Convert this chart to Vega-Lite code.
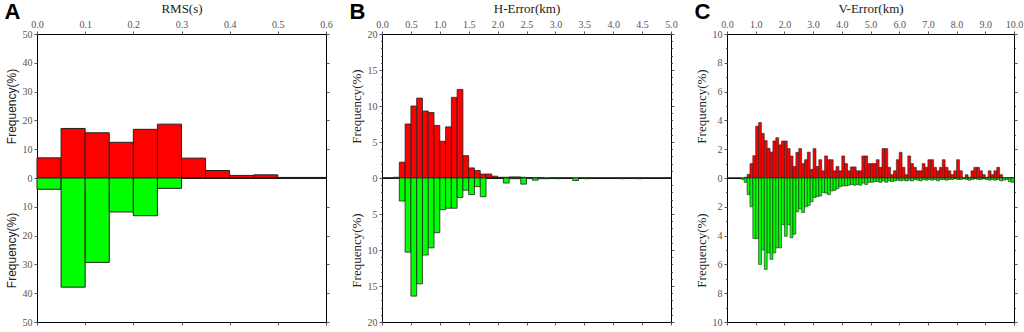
{
  "$schema": "https://vega.github.io/schema/vega-lite/v6.json",
  "background": "white",
  "padding": {"left": 4, "top": 0, "right": 2, "bottom": 2},
  "spacing": 16,
  "config": {
    "view": {"stroke": "#000", "strokeWidth": 1},
    "axis": {"labelFont": "Liberation Serif", "labelFontSize": 10, "labelColor": "#555", "titleFont": "Liberation Serif", "titleFontSize": 13, "titleFontWeight": "normal", "titleColor": "#222", "tickColor": "#555", "tickSize": 3, "domain": false, "grid": false, "labelFlush": false, "labelOverlap": false, "labelPadding": 2, "titlePadding": 4}
  },
  "datasets": {
    "A": [
      {"lo": 0, "hi": 0.05, "red": 7.0, "green": 3.9},
      {"lo": 0.05, "hi": 0.1, "red": 17.2, "green": 37.9},
      {"lo": 0.1, "hi": 0.15, "red": 15.7, "green": 29.3},
      {"lo": 0.15, "hi": 0.2, "red": 12.4, "green": 11.8},
      {"lo": 0.2, "hi": 0.25, "red": 16.9, "green": 13.1},
      {"lo": 0.25, "hi": 0.3, "red": 18.7, "green": 3.6},
      {"lo": 0.3, "hi": 0.35, "red": 6.9, "green": 0},
      {"lo": 0.35, "hi": 0.4, "red": 2.6, "green": 0},
      {"lo": 0.4, "hi": 0.45, "red": 0.9, "green": 0},
      {"lo": 0.45, "hi": 0.5, "red": 1.1, "green": 0},
      {"lo": 0.5, "hi": 0.55, "red": 0.2, "green": 0},
      {"lo": 0.55, "hi": 0.6, "red": 0.2, "green": 0}
    ],
    "B": [
      {"lo": 0.0, "hi": 0.1, "red": 0, "green": 0},
      {"lo": 0.1, "hi": 0.2, "red": 0, "green": 0},
      {"lo": 0.2, "hi": 0.3, "red": 0.1, "green": 0.05},
      {"lo": 0.3, "hi": 0.4, "red": 2.2, "green": 3.2},
      {"lo": 0.4, "hi": 0.5, "red": 7.5, "green": 10.3},
      {"lo": 0.5, "hi": 0.6, "red": 10.0, "green": 16.4},
      {"lo": 0.6, "hi": 0.7, "red": 11.1, "green": 14.7},
      {"lo": 0.7, "hi": 0.8, "red": 9.3, "green": 10.7},
      {"lo": 0.8, "hi": 0.9, "red": 9.1, "green": 9.7},
      {"lo": 0.9, "hi": 1.0, "red": 7.3, "green": 7.6},
      {"lo": 1.0, "hi": 1.1, "red": 5.1, "green": 4.4},
      {"lo": 1.1, "hi": 1.2, "red": 7.1, "green": 4.2},
      {"lo": 1.2, "hi": 1.3, "red": 11.2, "green": 4.2},
      {"lo": 1.3, "hi": 1.4, "red": 12.3, "green": 2.7},
      {"lo": 1.4, "hi": 1.5, "red": 3.1, "green": 1.7},
      {"lo": 1.5, "hi": 1.6, "red": 1.4, "green": 2.3},
      {"lo": 1.6, "hi": 1.7, "red": 1.05, "green": 1.2},
      {"lo": 1.7, "hi": 1.8, "red": 0.55, "green": 2.6},
      {"lo": 1.8, "hi": 1.9, "red": 0.55, "green": 0},
      {"lo": 1.9, "hi": 2.0, "red": 0.25, "green": 0},
      {"lo": 2.0, "hi": 2.1, "red": 0.1, "green": 0},
      {"lo": 2.1, "hi": 2.2, "red": 0.1, "green": 0.7},
      {"lo": 2.2, "hi": 2.3, "red": 0.15, "green": 0.1},
      {"lo": 2.3, "hi": 2.4, "red": 0.15, "green": 0.1},
      {"lo": 2.4, "hi": 2.5, "red": 0.1, "green": 0.85},
      {"lo": 2.5, "hi": 2.6, "red": 0.05, "green": 0.05},
      {"lo": 2.6, "hi": 2.7, "red": 0.05, "green": 0.3},
      {"lo": 2.7, "hi": 2.8, "red": 0.05, "green": 0.1},
      {"lo": 2.8, "hi": 2.9, "red": 0, "green": 0.1},
      {"lo": 2.9, "hi": 3.0, "red": 0, "green": 0},
      {"lo": 3.0, "hi": 3.1, "red": 0.05, "green": 0.1},
      {"lo": 3.1, "hi": 3.2, "red": 0, "green": 0},
      {"lo": 3.2, "hi": 3.3, "red": 0, "green": 0},
      {"lo": 3.3, "hi": 3.4, "red": 0, "green": 0.35},
      {"lo": 3.4, "hi": 3.5, "red": 0, "green": 0},
      {"lo": 3.5, "hi": 3.6, "red": 0.05, "green": 0.1},
      {"lo": 3.6, "hi": 3.7, "red": 0, "green": 0},
      {"lo": 3.7, "hi": 3.8, "red": 0, "green": 0},
      {"lo": 3.8, "hi": 3.9, "red": 0, "green": 0},
      {"lo": 3.9, "hi": 4.0, "red": 0, "green": 0},
      {"lo": 4.0, "hi": 4.1, "red": 0, "green": 0},
      {"lo": 4.1, "hi": 4.2, "red": 0.05, "green": 0.1},
      {"lo": 4.2, "hi": 4.3, "red": 0, "green": 0},
      {"lo": 4.3, "hi": 4.4, "red": 0, "green": 0},
      {"lo": 4.4, "hi": 4.5, "red": 0.05, "green": 0.1},
      {"lo": 4.5, "hi": 4.6, "red": 0, "green": 0},
      {"lo": 4.6, "hi": 4.7, "red": 0, "green": 0},
      {"lo": 4.7, "hi": 4.8, "red": 0, "green": 0},
      {"lo": 4.8, "hi": 4.9, "red": 0, "green": 0},
      {"lo": 4.9, "hi": 5.0, "red": 0, "green": 0}
    ],
    "C": [
      {"lo": 0.0, "hi": 0.1, "red": 0, "green": 0},
      {"lo": 0.1, "hi": 0.2, "red": 0, "green": 0},
      {"lo": 0.2, "hi": 0.3, "red": 0, "green": 0},
      {"lo": 0.3, "hi": 0.4, "red": 0, "green": 0},
      {"lo": 0.4, "hi": 0.5, "red": 0, "green": 0},
      {"lo": 0.5, "hi": 0.6, "red": 0, "green": 0.1},
      {"lo": 0.6, "hi": 0.7, "red": 0.05, "green": 0.3},
      {"lo": 0.7, "hi": 0.8, "red": 0.25, "green": 1.15},
      {"lo": 0.8, "hi": 0.9, "red": 1.0, "green": 2.0},
      {"lo": 0.9, "hi": 1.0, "red": 1.55, "green": 4.2},
      {"lo": 1.0, "hi": 1.1, "red": 3.6, "green": 4.2},
      {"lo": 1.1, "hi": 1.2, "red": 3.85, "green": 6.0},
      {"lo": 1.2, "hi": 1.3, "red": 3.1, "green": 5.0},
      {"lo": 1.3, "hi": 1.4, "red": 2.6, "green": 6.35},
      {"lo": 1.4, "hi": 1.5, "red": 2.06, "green": 5.2},
      {"lo": 1.5, "hi": 1.6, "red": 1.8, "green": 5.65},
      {"lo": 1.6, "hi": 1.7, "red": 2.57, "green": 5.2},
      {"lo": 1.7, "hi": 1.8, "red": 2.8, "green": 4.85},
      {"lo": 1.8, "hi": 1.9, "red": 2.3, "green": 4.85},
      {"lo": 1.9, "hi": 2.0, "red": 2.57, "green": 3.25},
      {"lo": 2.0, "hi": 2.1, "red": 2.57, "green": 4.05},
      {"lo": 2.1, "hi": 2.2, "red": 2.04, "green": 3.25},
      {"lo": 2.2, "hi": 2.3, "red": 1.53, "green": 4.15},
      {"lo": 2.3, "hi": 2.4, "red": 0.8, "green": 3.9},
      {"lo": 2.4, "hi": 2.5, "red": 1.78, "green": 2.35},
      {"lo": 2.5, "hi": 2.6, "red": 2.04, "green": 2.15},
      {"lo": 2.6, "hi": 2.7, "red": 1.0, "green": 2.4},
      {"lo": 2.7, "hi": 2.8, "red": 1.27, "green": 2.0},
      {"lo": 2.8, "hi": 2.9, "red": 1.8, "green": 1.9},
      {"lo": 2.9, "hi": 3.0, "red": 0.6, "green": 1.65},
      {"lo": 3.0, "hi": 3.1, "red": 2.04, "green": 1.35},
      {"lo": 3.1, "hi": 3.2, "red": 0.8, "green": 1.3},
      {"lo": 3.2, "hi": 3.3, "red": 1.27, "green": 1.25},
      {"lo": 3.3, "hi": 3.4, "red": 0.5, "green": 1.0},
      {"lo": 3.4, "hi": 3.5, "red": 1.53, "green": 1.05},
      {"lo": 3.5, "hi": 3.6, "red": 1.27, "green": 1.15},
      {"lo": 3.6, "hi": 3.7, "red": 1.27, "green": 0.9},
      {"lo": 3.7, "hi": 3.8, "red": 0.5, "green": 0.85},
      {"lo": 3.8, "hi": 3.9, "red": 0.8, "green": 0.75},
      {"lo": 3.9, "hi": 4.0, "red": 0.5, "green": 0.6},
      {"lo": 4.0, "hi": 4.1, "red": 1.53, "green": 0.55},
      {"lo": 4.1, "hi": 4.2, "red": 1.0, "green": 0.55},
      {"lo": 4.2, "hi": 4.3, "red": 0.5, "green": 0.5},
      {"lo": 4.3, "hi": 4.4, "red": 0.77, "green": 0.45},
      {"lo": 4.4, "hi": 4.5, "red": 0.77, "green": 0.5},
      {"lo": 4.5, "hi": 4.6, "red": 0.5, "green": 0.45},
      {"lo": 4.6, "hi": 4.7, "red": 0.5, "green": 0.5},
      {"lo": 4.7, "hi": 4.8, "red": 1.53, "green": 0.35},
      {"lo": 4.8, "hi": 4.9, "red": 1.53, "green": 0.45},
      {"lo": 4.9, "hi": 5.0, "red": 1.0, "green": 0.3},
      {"lo": 5.0, "hi": 5.1, "red": 1.0, "green": 0.3},
      {"lo": 5.1, "hi": 5.2, "red": 1.0, "green": 0.25},
      {"lo": 5.2, "hi": 5.3, "red": 1.27, "green": 0.25},
      {"lo": 5.3, "hi": 5.4, "red": 0.74, "green": 0.3},
      {"lo": 5.4, "hi": 5.5, "red": 2.04, "green": 0.2},
      {"lo": 5.5, "hi": 5.6, "red": 2.04, "green": 0.3},
      {"lo": 5.6, "hi": 5.7, "red": 0.74, "green": 0.2},
      {"lo": 5.7, "hi": 5.8, "red": 0.23, "green": 0.25},
      {"lo": 5.8, "hi": 5.9, "red": 0.5, "green": 0.2},
      {"lo": 5.9, "hi": 6.0, "red": 1.27, "green": 0.15},
      {"lo": 6.0, "hi": 6.1, "red": 1.78, "green": 0.2},
      {"lo": 6.1, "hi": 6.2, "red": 0.74, "green": 0.15},
      {"lo": 6.2, "hi": 6.3, "red": 0.23, "green": 0.2},
      {"lo": 6.3, "hi": 6.4, "red": 1.53, "green": 0.15},
      {"lo": 6.4, "hi": 6.5, "red": 1.0, "green": 0.2},
      {"lo": 6.5, "hi": 6.6, "red": 0.74, "green": 0.1},
      {"lo": 6.6, "hi": 6.7, "red": 0.5, "green": 0.15},
      {"lo": 6.7, "hi": 6.8, "red": 0.5, "green": 0.2},
      {"lo": 6.8, "hi": 6.9, "red": 1.0, "green": 0.1},
      {"lo": 6.9, "hi": 7.0, "red": 0.74, "green": 0.15},
      {"lo": 7.0, "hi": 7.1, "red": 1.27, "green": 0.1},
      {"lo": 7.1, "hi": 7.2, "red": 1.27, "green": 0.15},
      {"lo": 7.2, "hi": 7.3, "red": 0.74, "green": 0.1},
      {"lo": 7.3, "hi": 7.4, "red": 0.5, "green": 0.2},
      {"lo": 7.4, "hi": 7.5, "red": 0.74, "green": 0.1},
      {"lo": 7.5, "hi": 7.6, "red": 1.27, "green": 0.1},
      {"lo": 7.6, "hi": 7.7, "red": 0.74, "green": 0.15},
      {"lo": 7.7, "hi": 7.8, "red": 0.5, "green": 0.1},
      {"lo": 7.8, "hi": 7.9, "red": 0.23, "green": 0.1},
      {"lo": 7.9, "hi": 8.0, "red": 0.5, "green": 0.05},
      {"lo": 8.0, "hi": 8.1, "red": 1.27, "green": 0.1},
      {"lo": 8.1, "hi": 8.2, "red": 0.5, "green": 0.1},
      {"lo": 8.2, "hi": 8.3, "red": 0.02, "green": 0.05},
      {"lo": 8.3, "hi": 8.4, "red": 0.23, "green": 0.1},
      {"lo": 8.4, "hi": 8.5, "red": 0.05, "green": 0.15},
      {"lo": 8.5, "hi": 8.6, "red": 0.5, "green": 0.1},
      {"lo": 8.6, "hi": 8.7, "red": 0.74, "green": 0.05},
      {"lo": 8.7, "hi": 8.8, "red": 0.74, "green": 0.1},
      {"lo": 8.8, "hi": 8.9, "red": 0.5, "green": 0.1},
      {"lo": 8.9, "hi": 9.0, "red": 0.23, "green": 0.05},
      {"lo": 9.0, "hi": 9.1, "red": 0.05, "green": 0.1},
      {"lo": 9.1, "hi": 9.2, "red": 0.5, "green": 0.15},
      {"lo": 9.2, "hi": 9.3, "red": 0.23, "green": 0.1},
      {"lo": 9.3, "hi": 9.4, "red": 0.5, "green": 0.15},
      {"lo": 9.4, "hi": 9.5, "red": 0.74, "green": 0.1},
      {"lo": 9.5, "hi": 9.6, "red": 0.23, "green": 0.2},
      {"lo": 9.6, "hi": 9.7, "red": 0.03, "green": 0.15},
      {"lo": 9.7, "hi": 9.8, "red": 0.03, "green": 0.1},
      {"lo": 9.8, "hi": 9.9, "red": 0.03, "green": 0.25},
      {"lo": 9.9, "hi": 10.0, "red": 0.03, "green": 0.3}
    ]
  },
  "hconcat": [
    {
      "title": {"text": "A", "anchor": "start", "frame": "bounds", "font": "Liberation Sans", "fontSize": 22, "fontWeight": "bold", "color": "#000", "baseline": "top", "offset": 0, "dy": 22},
      "spacing": 0,
      "bounds": "flush",
      "vconcat": [
        {
          "width": 289, "height": 144,
          "data": {"name": "A"},
          "resolve": {"axis": {"x": "independent", "y": "independent"}},
          "layer": [
            {
              "mark": {"type": "bar", "fill": "#ff0000", "stroke": "#222", "strokeWidth": 1},
              "encoding": {
                "x": {"field": "lo", "type": "quantitative", "scale": {"domain": [0, 0.6], "nice": false}, "axis": {"orient": "top", "title": "RMS(s)", "values": [0, 0.1, 0.2, 0.3, 0.4, 0.5, 0.6], "format": ".1f"}},
                "x2": {"field": "hi"},
                "y": {"field": "red", "type": "quantitative", "scale": {"domain": [0, 50], "nice": false}, "axis": {"orient": "left", "title": "Frequency(%)", "titleFont": "Liberation Sans", "titleFontSize": 12, "values": [10, 20, 30, 40, 50]}},
                "y2": {"datum": 0}
              }
            },
            {
              "mark": {"type": "point", "opacity": 0},
              "encoding": {
                "x": {"field": "lo", "type": "quantitative", "axis": null},
                "y": {"field": "red", "type": "quantitative", "axis": {"orient": "right", "labels": false, "title": null, "values": [10, 20, 30, 40, 50]}}
              }
            }
          ]
        },
        {
          "width": 289, "height": 144,
          "data": {"name": "A"},
          "resolve": {"axis": {"x": "independent", "y": "independent"}},
          "layer": [
            {
              "mark": {"type": "bar", "fill": "#00ff00", "stroke": "#222", "strokeWidth": 1},
              "encoding": {
                "x": {"field": "lo", "type": "quantitative", "scale": {"domain": [0, 0.6], "nice": false}, "axis": {"orient": "bottom", "labels": false, "title": null, "values": [0, 0.1, 0.2, 0.3, 0.4, 0.5, 0.6]}},
                "x2": {"field": "hi"},
                "y": {"field": "green", "type": "quantitative", "scale": {"domain": [0, 50], "nice": false, "reverse": true}, "axis": {"orient": "left", "title": "Frequency(%)", "titleFont": "Liberation Sans", "titleFontSize": 12, "values": [0, 10, 20, 30, 40, 50]}},
                "y2": {"datum": 0}
              }
            },
            {
              "mark": {"type": "point", "opacity": 0},
              "encoding": {
                "x": {"field": "lo", "type": "quantitative", "axis": null},
                "y": {"field": "green", "type": "quantitative", "axis": {"orient": "right", "labels": false, "title": null, "values": [10, 20, 30, 40, 50]}}
              }
            }
          ]
        }
      ]
    },
    {
      "title": {"text": "B", "anchor": "start", "frame": "bounds", "font": "Liberation Sans", "fontSize": 22, "fontWeight": "bold", "color": "#000", "baseline": "top", "offset": 0, "dy": 22},
      "spacing": 0,
      "bounds": "flush",
      "vconcat": [
        {
          "width": 289, "height": 144,
          "data": {"name": "B"},
          "resolve": {"axis": {"x": "independent", "y": "independent"}},
          "layer": [
            {
              "mark": {"type": "bar", "fill": "#ff0000", "stroke": "#222", "strokeWidth": 0.8},
              "encoding": {
                "x": {"field": "lo", "type": "quantitative", "scale": {"domain": [0, 5], "nice": false}, "axis": {"orient": "top", "title": "H-Error(km)", "values": [0, 0.5, 1, 1.5, 2, 2.5, 3, 3.5, 4, 4.5, 5], "format": ".1f"}},
                "x2": {"field": "hi"},
                "y": {"field": "red", "type": "quantitative", "scale": {"domain": [0, 20], "nice": false}, "axis": {"orient": "left", "title": "Frequency(%)", "values": [1, 2, 3, 4, 5, 6, 7, 8, 9, 10, 11, 12, 13, 14, 15, 16, 17, 18, 19, 20], "labelExpr": "datum.value % 5 === 0 ? datum.label : ''", "tickSize": {"condition": {"test": "datum.value % 5 === 0", "value": 3}, "value": 1.5}}},
                "y2": {"datum": 0}
              }
            },
            {
              "mark": {"type": "point", "opacity": 0},
              "encoding": {
                "x": {"field": "lo", "type": "quantitative", "axis": null},
                "y": {"field": "red", "type": "quantitative", "axis": {"orient": "right", "labels": false, "title": null, "values": [1, 2, 3, 4, 5, 6, 7, 8, 9, 10, 11, 12, 13, 14, 15, 16, 17, 18, 19, 20], "tickSize": {"condition": {"test": "datum.value % 5 === 0", "value": 3}, "value": 1.5}}}
              }
            }
          ]
        },
        {
          "width": 289, "height": 144,
          "data": {"name": "B"},
          "resolve": {"axis": {"x": "independent", "y": "independent"}},
          "layer": [
            {
              "mark": {"type": "bar", "fill": "#00ff00", "stroke": "#222", "strokeWidth": 0.8},
              "encoding": {
                "x": {"field": "lo", "type": "quantitative", "scale": {"domain": [0, 5], "nice": false}, "axis": {"orient": "bottom", "labels": false, "title": null, "values": [0, 0.5, 1, 1.5, 2, 2.5, 3, 3.5, 4, 4.5, 5]}},
                "x2": {"field": "hi"},
                "y": {"field": "green", "type": "quantitative", "scale": {"domain": [0, 20], "nice": false, "reverse": true}, "axis": {"orient": "left", "title": "Frequency(%)", "values": [0, 1, 2, 3, 4, 5, 6, 7, 8, 9, 10, 11, 12, 13, 14, 15, 16, 17, 18, 19, 20], "labelExpr": "datum.value % 5 === 0 ? datum.label : ''", "tickSize": {"condition": {"test": "datum.value % 5 === 0", "value": 3}, "value": 1.5}}},
                "y2": {"datum": 0}
              }
            },
            {
              "mark": {"type": "point", "opacity": 0},
              "encoding": {
                "x": {"field": "lo", "type": "quantitative", "axis": null},
                "y": {"field": "green", "type": "quantitative", "axis": {"orient": "right", "labels": false, "title": null, "values": [1, 2, 3, 4, 5, 6, 7, 8, 9, 10, 11, 12, 13, 14, 15, 16, 17, 18, 19, 20], "tickSize": {"condition": {"test": "datum.value % 5 === 0", "value": 3}, "value": 1.5}}}
              }
            }
          ]
        }
      ]
    },
    {
      "title": {"text": "C", "anchor": "start", "frame": "bounds", "font": "Liberation Sans", "fontSize": 22, "fontWeight": "bold", "color": "#000", "baseline": "top", "offset": 0, "dy": 22},
      "spacing": 0,
      "bounds": "flush",
      "vconcat": [
        {
          "width": 287, "height": 144,
          "data": {"name": "C"},
          "resolve": {"axis": {"x": "independent", "y": "independent"}},
          "layer": [
            {
              "mark": {"type": "bar", "fill": "#ff0000", "stroke": "#222", "strokeWidth": 0.6},
              "encoding": {
                "x": {"field": "lo", "type": "quantitative", "scale": {"domain": [0, 10], "nice": false}, "axis": {"orient": "top", "title": "V-Error(km)", "values": [0, 1, 2, 3, 4, 5, 6, 7, 8, 9, 10], "format": ".1f"}},
                "x2": {"field": "hi"},
                "y": {"field": "red", "type": "quantitative", "scale": {"domain": [0, 10], "nice": false}, "axis": {"orient": "left", "title": "Frequency(%)", "values": [1, 2, 3, 4, 5, 6, 7, 8, 9, 10], "labelExpr": "datum.value % 2 === 0 ? datum.label : ''", "tickSize": {"condition": {"test": "datum.value % 2 === 0", "value": 3}, "value": 1.5}}},
                "y2": {"datum": 0}
              }
            },
            {
              "mark": {"type": "point", "opacity": 0},
              "encoding": {
                "x": {"field": "lo", "type": "quantitative", "axis": null},
                "y": {"field": "red", "type": "quantitative", "axis": {"orient": "right", "labels": false, "title": null, "values": [1, 2, 3, 4, 5, 6, 7, 8, 9, 10], "tickSize": {"condition": {"test": "datum.value % 2 === 0", "value": 3}, "value": 1.5}}}
              }
            }
          ]
        },
        {
          "width": 287, "height": 144,
          "data": {"name": "C"},
          "resolve": {"axis": {"x": "independent", "y": "independent"}},
          "layer": [
            {
              "mark": {"type": "bar", "fill": "#00ff00", "stroke": "#222", "strokeWidth": 0.6},
              "encoding": {
                "x": {"field": "lo", "type": "quantitative", "scale": {"domain": [0, 10], "nice": false}, "axis": {"orient": "bottom", "labels": false, "title": null, "values": [0, 1, 2, 3, 4, 5, 6, 7, 8, 9, 10]}},
                "x2": {"field": "hi"},
                "y": {"field": "green", "type": "quantitative", "scale": {"domain": [0, 10], "nice": false, "reverse": true}, "axis": {"orient": "left", "title": "Frequency(%)", "values": [0, 1, 2, 3, 4, 5, 6, 7, 8, 9, 10], "labelExpr": "datum.value % 2 === 0 ? datum.label : ''", "tickSize": {"condition": {"test": "datum.value % 2 === 0", "value": 3}, "value": 1.5}}},
                "y2": {"datum": 0}
              }
            },
            {
              "mark": {"type": "point", "opacity": 0},
              "encoding": {
                "x": {"field": "lo", "type": "quantitative", "axis": null},
                "y": {"field": "green", "type": "quantitative", "axis": {"orient": "right", "labels": false, "title": null, "values": [1, 2, 3, 4, 5, 6, 7, 8, 9, 10], "tickSize": {"condition": {"test": "datum.value % 2 === 0", "value": 3}, "value": 1.5}}}
              }
            }
          ]
        }
      ]
    }
  ]
}
